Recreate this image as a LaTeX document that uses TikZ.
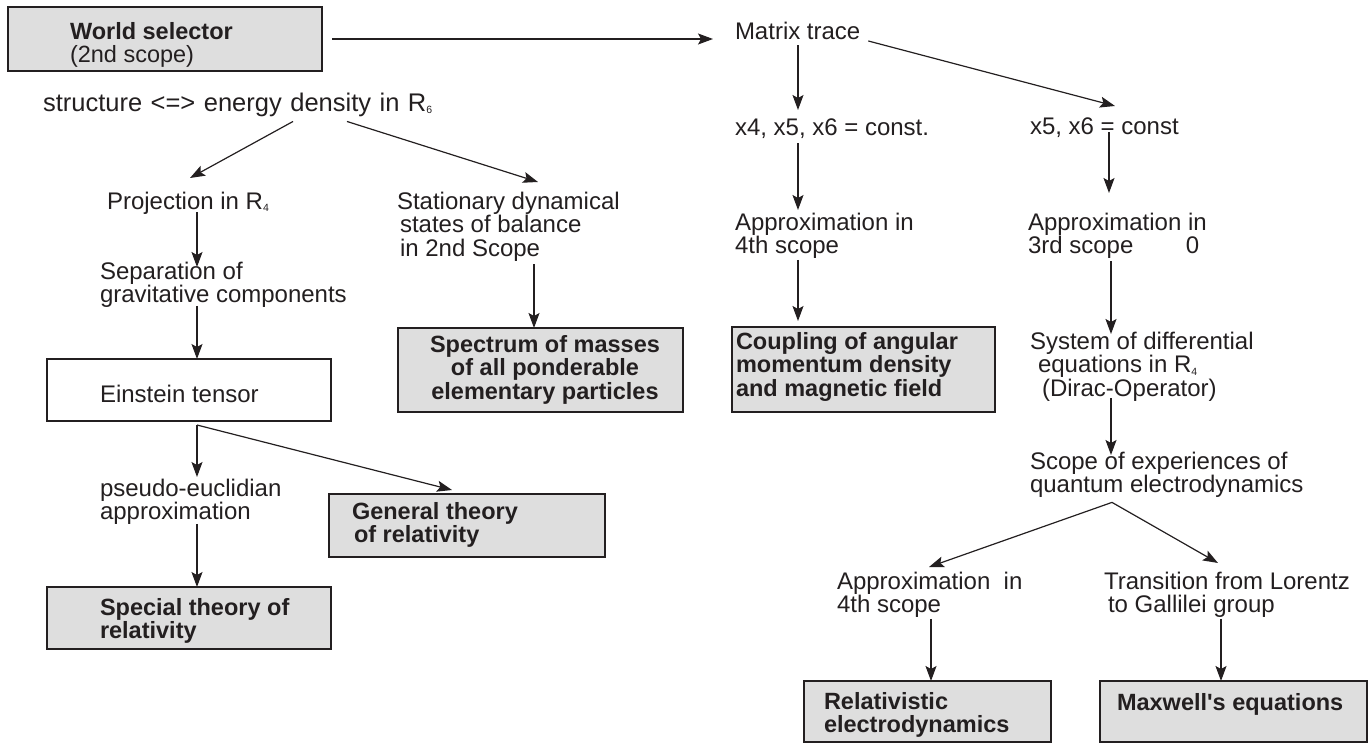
\documentclass[tikz,border=0pt]{standalone}
\usepackage{fontspec}
\setmainfont{Liberation Sans}[Ligatures=TeXOff]
\usetikzlibrary{arrows.meta}
\definecolor{ink}{HTML}{231F20}
\definecolor{boxgray}{HTML}{DEDEDE}
\newcommand\mysub[1]{\raisebox{-2.5pt}{\fontsize{10.5}{10.5}\selectfont #1}}
\begin{document}
\begin{tikzpicture}[x=1pt,y=-1pt,
  txt/.style={anchor=north west, inner sep=0pt, outer sep=0pt, align=left, text=ink,
    font=\fontsize{24}{23.5}\selectfont,
    execute at begin node={\rule{0pt}{18pt}},
    execute at end node={\rule[-6pt]{0pt}{6pt}}},
  btxt/.style={txt, font=\fontsize{23.5}{23.5}\selectfont\bfseries},
  gbox/.style={draw=ink, fill=boxgray, line width=2pt, inner sep=0pt, outer sep=0pt, anchor=north west},
  wbox/.style={draw=ink, fill=white, line width=2.5pt, inner sep=0pt, outer sep=0pt, anchor=north west},
  arr/.style={draw=ink, line width=1.2pt, -{Stealth[length=15pt,width=11pt,inset=3pt]}}
]
\useasboundingbox (0,0) rectangle (1369,744);

% boxes
\node[gbox, minimum width=314pt, minimum height=64pt] (ws) at (8,7) {};
\node[wbox, minimum width=284pt, minimum height=62pt] (et) at (47,359) {};
\node[gbox, minimum width=284pt, minimum height=62pt] (sp) at (47,587) {};
\node[gbox, minimum width=276pt, minimum height=63pt] (gt) at (329,494) {};
\node[gbox, minimum width=285pt, minimum height=84pt] (spec) at (398,328) {};
\node[gbox, minimum width=263pt, minimum height=85pt] (coup) at (732,327) {};
\node[gbox, minimum width=247pt, minimum height=61pt] (rel) at (804,681) {};
\node[gbox, minimum width=267pt, minimum height=61pt] (max) at (1100,681) {};

% box texts
\node[btxt] (wst) at (70,22) {World selector\\\mdseries (2nd scope)};
\node[txt] (ett) at (100,384) {Einstein tensor};
\node[btxt] (spt) at (100,598) {Special theory of\\relativity};
\node[btxt] (gtt) at (352,502) {General theory\\\hspace*{2pt}of relativity};
\node[btxt, anchor=north, align=center] (spect) at (545,335) {Spectrum of masses\\of all ponderable\\elementary particles};
\node[btxt] (coupt) at (736,332) {Coupling of angular\\momentum density\\and magnetic field};
\node[btxt] (relt) at (824,692) {Relativistic\\electrodynamics};
\node[btxt] (maxt) at (1117,692) {Maxwell's equations};

% free texts
\node[txt] (mt) at (735,21) {Matrix trace};
\node[txt, font=\fontsize{25.5}{25.5}\selectfont] (st) at (43,93) {\spaceskip=8.5pt\relax structure <=> energy density in R\mysub{6}};
\node[txt] (proj) at (107,191) {Projection in R\mysub{4}};
\node[txt] (sep) at (100,262) {Separation of\\gravitative components};
\node[txt] (pe) at (100,479) {pseudo-euclidian\\approximation};
\node[txt] (stat) at (397,192) {Stationary dynamical\\\hspace*{3pt}states of balance\\\hspace*{3pt}in 2nd Scope};
\node[txt] (x4) at (735,117) {x4, x5, x6 = const.};
\node[txt] (x5) at (1030,116) {x5, x6 = const};
\node[txt] (a4) at (735,213) {Approximation in\\4th scope};
\node[txt] (a3) at (1028,213) {Approximation in\\\makebox[158pt][l]{3rd scope}0};
\node[txt] (sys) at (1030,332) {System of differential\\\hspace*{8pt}equations in R\mysub{4}\\\hspace*{12pt}(Dirac-Operator)};
\node[txt] (scope) at (1030,452) {Scope of experiences of\\quantum electrodynamics};
\node[txt] (a4b) at (837,572) {Approximation\ \ in\\4th scope};
\node[txt] (tr) at (1104,572) {Transition from Lorentz\\\hspace*{4pt}to Gallilei group};

% connectors
\draw[arr, shorten <=10pt, shorten >=22pt] (ws.east) -- (ws.east -| mt.west);
\draw[arr] ([xshift=63pt]mt.south west) -- ([xshift=63pt,yshift=7pt]x4.north west);
\draw[arr] ([xshift=8pt,yshift=-8pt]mt.east) -- ([xshift=85pt,yshift=10pt]x5.north west);
\draw[arr] ([xshift=79pt,yshift=8pt]x5.south west) -- ([xshift=79pt,yshift=20pt]x5.south west |- a3.north);
\draw[arr] ([xshift=63pt,yshift=-2pt]x4.south west) -- ([xshift=63pt,yshift=3pt]a4.north west);
\draw[arr] ([xshift=63pt]a4.south west) -- ([xshift=63pt,yshift=6pt]a4.south west |- coup.north);
\draw[arr] ([xshift=83pt,yshift=-1.5pt]a3.south west) -- ([xshift=83pt,yshift=-2pt]a3.south west |- sys.north);
\draw[arr] ([xshift=81pt,yshift=4pt]sys.south west) -- ([xshift=81pt,yshift=-3pt]scope.north west);
\draw[arr] ([xshift=82pt,yshift=-3.5pt]scope.south west) -- ([xshift=92pt,yshift=5pt]a4b.north west);
\draw[arr] ([xshift=82pt,yshift=-3.5pt]scope.south west) -- ([xshift=114pt,yshift=9pt]tr.north west);
\draw[arr] ([xshift=94pt]a4b.south west) -- ([xshift=94pt]a4b.south west |- rel.north);
\draw[arr] ([xshift=117pt]tr.south west) -- ([xshift=117pt]tr.south west |- max.north);
\draw[arr] ([xshift=250pt,yshift=-4pt]st.south west) -- ([xshift=83pt,yshift=13pt]proj.north west);
\draw[arr] ([xshift=304pt,yshift=-4pt]st.south west) -- ([xshift=141pt,yshift=10pt]stat.north west);
\draw[arr] ([xshift=90pt,yshift=3pt]proj.south west) -- ([xshift=90pt,yshift=-5pt]proj.south west |- sep.north);
\draw[arr] ([xshift=97pt,yshift=3pt]sep.south west) -- ([xshift=97pt]sep.south west |- et.north);
\draw[arr] ([xshift=150pt,yshift=-4pt]et.south west) -- ([xshift=97pt,yshift=2pt]pe.north west);
\draw[arr] ([xshift=150pt,yshift=-4pt]et.south west) -- ([xshift=123pt,yshift=4pt]gt.north west);
\draw[arr] ([xshift=97pt,yshift=2pt]pe.south west) -- ([xshift=97pt]pe.south west |- sp.north);
\draw[arr] ([xshift=137pt,yshift=-2pt]stat.south west) -- ([xshift=137pt]stat.south west |- spec.north);
\end{tikzpicture}
\end{document}
